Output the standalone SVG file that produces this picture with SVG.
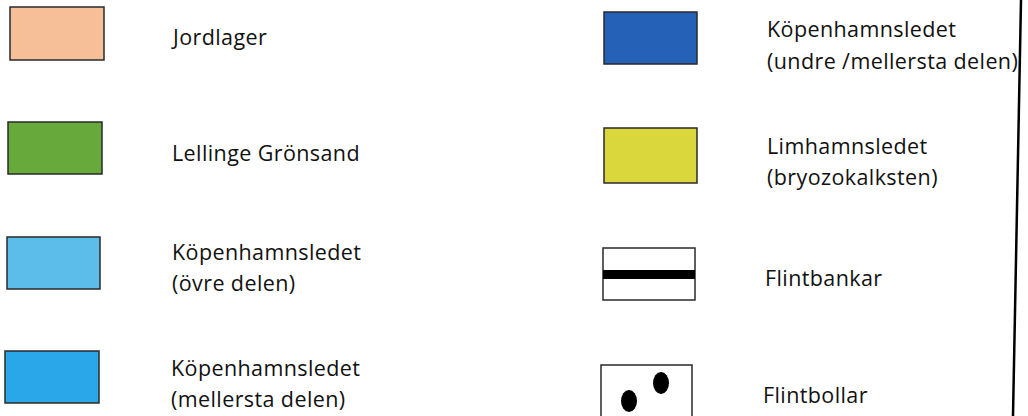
<svg xmlns="http://www.w3.org/2000/svg" width="1028" height="416" viewBox="0 0 1028 416">
<style>
.sw{stroke:#2a2a2a;stroke-width:1.5}
.t{font-family:"Open Sans","Noto Sans",sans-serif;font-size:21.5px;letter-spacing:0.4px;fill:#111}
</style>
<rect width="1028" height="416" fill="#ffffff"/>
<g id="jordlager"><rect class="sw" x="10" y="7" width="94" height="53" fill="#f6bf98"/><text class="t" x="173" y="45">Jordlager</text></g>
<g id="lellinge"><rect class="sw" x="8" y="122" width="94" height="52" fill="#68a93c"/><text class="t" x="172" y="161">Lellinge Grönsand</text></g>
<g id="kopen-ovre"><rect class="sw" x="7" y="237" width="93" height="52" fill="#5cbdea"/><text class="t" x="172" y="260">Köpenhamnsledet</text><text class="t" x="172" y="291">(övre delen)</text></g>
<g id="kopen-mellersta"><rect class="sw" x="5" y="351" width="94" height="52" fill="#2aa7e8"/><text class="t" x="171" y="376">Köpenhamnsledet</text><text class="t" x="171" y="407">(mellersta delen)</text></g>
<g id="kopen-undre"><rect class="sw" x="604" y="12" width="93" height="52" fill="#2562b7"/><text class="t" x="767" y="37">Köpenhamnsledet</text><text class="t" x="767" y="69">(undre /mellersta delen)</text></g>
<g id="limhamn"><rect class="sw" x="604" y="128" width="93" height="55" fill="#d9d73c"/><text class="t" x="767" y="154">Limhamnsledet</text><text class="t" x="767" y="185">(bryozokalksten)</text></g>
<g id="flintbankar"><rect class="sw" x="603" y="248" width="92" height="52" fill="#ffffff"/><rect x="603" y="270" width="92" height="9" fill="#000"/><text class="t" x="765" y="286">Flintbankar</text></g>
<g id="flintbollar"><rect class="sw" x="601" y="365" width="91" height="60" fill="#ffffff"/><ellipse cx="629" cy="401" rx="8" ry="11" fill="#000"/><ellipse cx="661" cy="383" rx="8" ry="11" fill="#000"/><text class="t" x="763" y="403">Flintbollar</text></g>
<g id="edge"><line x1="1021" y1="0" x2="1013" y2="416" stroke="#000" stroke-width="2.5"/></g>
</svg>
